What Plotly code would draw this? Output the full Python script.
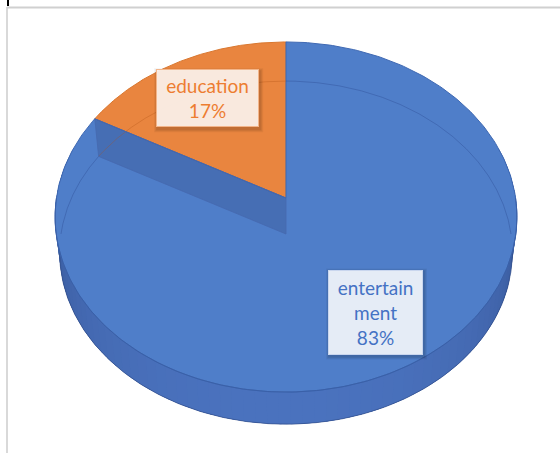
import numpy as np
import plotly.graph_objects as go

# Share of content by type
labels = ["education", "entertainment"]
label_lines = ["education<br>17%", "entertain<br>ment<br>83%"]
values = [17, 83]

top_colors = ["#E9853F", "#4F7EC9"]
edge_colors = ["#D9772F", "#3F69B3"]
see_through = ["rgba(190,95,30,0.45)", "rgba(40,70,140,0.35)"]
text_colors = ["#ED7D31", "#4472C4"]
box_fills = ["rgba(252,240,232,0.95)", "rgba(236,241,249,0.96)"]
box_borders = ["#F3B58A", "#C9D6EE"]

W, H = 560, 453

# Perspective projection of the unit disc (top face level 0, bottom face level 1)
CX, CY = 286.0, 198.0
A, B, K = 229.6, 173.0, 0.1086
DEPTH = 36.0
BOT_SCALE = 0.98
LABEL_R = 0.715


def project(theta, level=0, r=1.0):
    theta = np.asarray(theta, dtype=float)
    u = r * np.cos(theta)
    v = r * np.sin(theta)
    s = 1.0 / (1.0 + K * v)
    sc = 1.0 if level == 0 else BOT_SCALE
    x = CX + A * u * s * sc
    y = CY + level * DEPTH - B * v * s * sc
    return x, y


def mix(c1, c2, f):
    return "rgb({},{},{})".format(*[int(round(a + (b - a) * f)) for a, b in zip(c1, c2)])


# Slice angles: first slice starts at 12 o'clock and runs counter-clockwise
fracs = np.array(values, dtype=float) / np.sum(values)
starts = np.pi / 2 + 2 * np.pi * np.concatenate([[0], np.cumsum(fracs)[:-1]])
ends = starts + 2 * np.pi * fracs

fig = go.Figure()

# Front side wall: a base band, then overlapping shaded strips
wall_dark = (50, 80, 142)
wall_light = (74, 114, 190)
t_lo, t_hi = np.pi - 0.3, 2 * np.pi + 0.3
tw = np.linspace(t_lo, t_hi, 300)
xt, yt = project(tw, 0)
xb, yb = project(tw[::-1], 1)
fig.add_trace(go.Scatter(
    x=np.concatenate([xt, xb]), y=np.concatenate([yt, yb]),
    mode="lines", fill="toself", fillcolor=mix(wall_dark, wall_light, 0.8),
    line=dict(width=0), hoverinfo="skip", showlegend=False))

n_strips = 80
edges = np.linspace(t_lo, t_hi, n_strips + 1)
step = edges[1] - edges[0]
for t0, t1 in zip(edges[:-1], edges[1:]):
    ts = np.linspace(t0 - 0.6 * step, t1 + 0.6 * step, 5)
    ts = np.clip(ts, t_lo, t_hi)
    xt, yt = project(ts, 0)
    xb, yb = project(ts[::-1], 1)
    tm = 0.5 * (t0 + t1)
    f = max(0.0, -np.sin(tm)) ** 0.6
    col = mix(wall_dark, wall_light, f)
    fig.add_trace(go.Scatter(
        x=np.concatenate([xt, xb]), y=np.concatenate([yt, yb]),
        mode="lines", fill="toself", fillcolor=col,
        line=dict(width=0), hoverinfo="skip", showlegend=False))

# Lower rim of the wall
tb = np.linspace(np.pi, 2 * np.pi, 200)
xb, yb = project(tb, 1)
fig.add_trace(go.Scatter(x=xb, y=yb, mode="lines",
                         line=dict(color="rgba(45,72,130,0.6)", width=1),
                         hoverinfo="skip", showlegend=False))

# Top faces of the slices
for i in range(len(values)):
    ts = np.linspace(starts[i], ends[i], 300)
    xa, ya = project(ts, 0)
    cx0, cy0 = project(0.0, 0, r=0.0)
    fig.add_trace(go.Scatter(
        x=np.concatenate([[cx0], xa, [cx0]]), y=np.concatenate([[cy0], ya, [cy0]]),
        mode="lines", fill="toself", fillcolor=top_colors[i],
        line=dict(color=edge_colors[i], width=1), hoverinfo="skip",
        name=labels[i], showlegend=False))

# Back rim of the bottom face, visible through the translucent top
for i in range(len(values)):
    a0, a1 = starts[i], ends[i]
    segs = []
    lo, hi = max(a0, 0.0), min(a1, np.pi)
    if lo < hi:
        segs.append((lo, hi))
    lo2, hi2 = max(a0, 2 * np.pi), min(a1, 3 * np.pi)
    if lo2 < hi2:
        segs.append((lo2, hi2))
    for s0, s1 in segs:
        ts = np.linspace(s0, s1, 200)
        xr, yr = project(ts, 1)
        fig.add_trace(go.Scatter(x=xr, y=yr, mode="lines",
                                 line=dict(color=see_through[i], width=1),
                                 hoverinfo="skip", showlegend=False))

# Cut face at the slice boundary, seen through the top
theta_cut = ends[0]
pt = project(theta_cut, 0)
pb = project(theta_cut, 1)
ct = project(0.0, 0, r=0.0)
cb = project(0.0, 1, r=0.0)
fig.add_trace(go.Scatter(
    x=[float(pt[0]), float(ct[0]), float(cb[0]), float(pb[0]), float(pt[0])],
    y=[float(pt[1]), float(ct[1]), float(cb[1]), float(pb[1]), float(pt[1])],
    mode="lines", fill="toself", fillcolor="rgba(55,80,140,0.35)",
    line=dict(color="rgba(70,105,175,0.8)", width=1),
    hoverinfo="skip", showlegend=False))

# Top rim line along the front
tf = np.linspace(np.pi, 2 * np.pi, 200)
xf, yf = project(tf, 0)
fig.add_trace(go.Scatter(x=xf, y=yf, mode="lines",
                         line=dict(color="#3A60A8", width=1),
                         hoverinfo="skip", showlegend=False))

# Data labels at the middle of each slice, with a soft shadow behind
annotations = []
shadow_shapes = []
box_sizes = [(97, 52), (89, 79)]
PAD = 2
for i in range(len(values)):
    mid = 0.5 * (starts[i] + ends[i])
    lx, ly = project(mid, 0, r=LABEL_R)
    lx, ly = float(lx), float(ly)
    bw = box_sizes[i][0] + 2 * PAD + 2
    bh = box_sizes[i][1] + 2 * PAD + 2
    for grow, alpha in [(3, 0.05), (2, 0.06), (1, 0.07)]:
        shadow_shapes.append(dict(
            type="rect", xref="x", yref="y", layer="above",
            x0=lx - bw / 2 - grow + 1, x1=lx + bw / 2 + grow + 1,
            y0=ly - bh / 2 - grow + 2, y1=ly + bh / 2 + grow + 2,
            fillcolor="rgba(0,0,0,{})".format(alpha), line=dict(width=0)))
    annotations.append(dict(
        x=lx, y=ly, xref="x", yref="y", text=label_lines[i],
        showarrow=False, font=dict(family="Lato", size=19, color=text_colors[i]),
        bgcolor=box_fills[i], bordercolor=box_borders[i], borderwidth=1,
        borderpad=PAD, width=box_sizes[i][0], height=box_sizes[i][1],
        align="center", valign="middle"))

# Chart frame
shapes = shadow_shapes + [
    dict(type="line", xref="x", yref="y", x0=7, x1=7, y0=7, y1=H,
         line=dict(color="#D9D9D9", width=2)),
    dict(type="line", xref="x", yref="y", x0=7, x1=W, y0=7.5, y1=7.5,
         line=dict(color="#D0D0D0", width=2)),
    dict(type="line", xref="x", yref="y", x0=8, x1=8, y0=0, y1=6,
         line=dict(color="#000000", width=2)),
]

fig.update_layout(
    width=W, height=H, margin=dict(l=0, r=0, t=0, b=0),
    paper_bgcolor="white", plot_bgcolor="white",
    xaxis=dict(range=[0, W], visible=False, fixedrange=True),
    yaxis=dict(range=[H, 0], visible=False, fixedrange=True),
    annotations=annotations, shapes=shapes, showlegend=False,
)

fig.write_html("out.html", config={"displayModeBar": False})
